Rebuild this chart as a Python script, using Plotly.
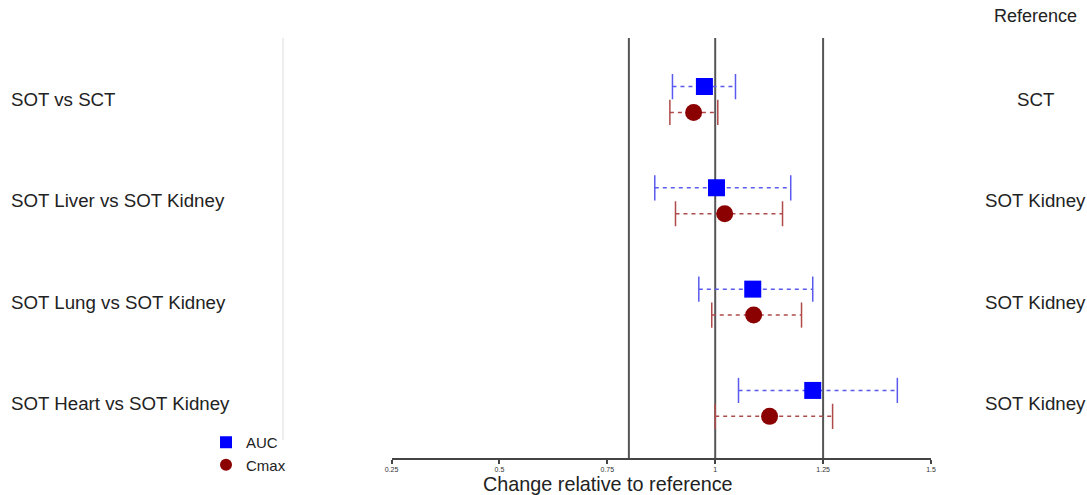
import plotly.graph_objects as go

comparisons = ["SOT vs SCT", "SOT Liver vs SOT Kidney", "SOT Lung vs SOT Kidney", "SOT Heart vs SOT Kidney"]
references = ["SCT", "SOT Kidney", "SOT Kidney", "SOT Kidney"]

auc_est = [0.975, 1.003, 1.087, 1.226]
auc_lo = [0.901, 0.860, 0.962, 1.054]
auc_hi = [1.047, 1.175, 1.226, 1.422]

cmax_est = [0.950, 1.022, 1.089, 1.126]
cmax_lo = [0.895, 0.908, 0.992, 1.000]
cmax_hi = [1.006, 1.156, 1.200, 1.272]

ref_lines = [0.8, 1.0, 1.25]
tick_vals = [0.25, 0.5, 0.75, 1.0, 1.25, 1.5]
tick_text = ["0.25", "0.5", "0.75", "1", "1.25", "1.5"]

W, H = 1087, 495
TOP, BOT = 38, 458
FONT = "Liberation Sans, Arial, sans-serif"
OFF = 0.128

fig = go.Figure()

def add_series(est, lo, hi, off, mcolor, wcolor, symbol, msize, name):
    ys = [i + off for i in range(len(est))]
    wx, wy = [], []
    for l, h, y in zip(lo, hi, ys):
        wx += [l, h, None]
        wy += [y, y, None]
    fig.add_trace(go.Scatter(x=wx, y=wy, mode="lines",
                             line=dict(color=wcolor, width=1.5, dash="4px,4px"),
                             showlegend=False, hoverinfo="skip"))
    fig.add_trace(go.Scatter(x=lo + hi, y=ys + ys, mode="markers",
                             marker=dict(symbol="line-ns", size=18,
                                         line=dict(color=wcolor, width=1.5)),
                             showlegend=False, hoverinfo="skip"))
    fig.add_trace(go.Scatter(x=est, y=ys, mode="markers",
                             marker=dict(symbol=symbol, size=msize, color=mcolor,
                                         line=dict(width=0)),
                             showlegend=False, name=name))

add_series(auc_est, auc_lo, auc_hi, -OFF, "#0000FF", "#5a5af0", "square", 17, "AUC")
add_series(cmax_est, cmax_lo, cmax_hi, OFF, "#8B0000", "#b04a4a", "circle", 17, "Cmax")

# legend-only entries
fig.add_trace(go.Scatter(x=[None], y=[None], mode="markers", name="AUC",
                         marker=dict(symbol="square", size=12, color="#0000FF")))
fig.add_trace(go.Scatter(x=[None], y=[None], mode="markers", name="Cmax",
                         marker=dict(symbol="circle", size=12, color="#8B0000")))

shapes = []
for v in ref_lines:
    shapes.append(dict(type="line", xref="x", yref="paper", x0=v, x1=v, y0=0, y1=1,
                       line=dict(color="#555555", width=2), layer="below"))
# faint separator line
shapes.append(dict(type="line", xref="paper", yref="paper", x0=283 / W, x1=283 / W,
                   y0=1 - (440 - TOP) / (BOT - TOP), y1=1,
                   line=dict(color="#dddddd", width=1), layer="below"))

annotations = []
for i, (c, r) in enumerate(zip(comparisons, references)):
    annotations.append(dict(x=9 / W, xref="paper", y=i, yref="y", text=c,
                            showarrow=False, xanchor="left", yanchor="middle",
                            font=dict(family=FONT, size=18.7, color="#222222")))
    annotations.append(dict(x=1035 / W, xref="paper", y=i, yref="y", text=r,
                            showarrow=False, xanchor="center", yanchor="middle",
                            font=dict(family=FONT, size=18.7, color="#222222")))
annotations.append(dict(x=1035 / W, xref="paper", y=1 + (TOP - 16) / (BOT - TOP), yref="paper",
                        text="Reference", showarrow=False, xanchor="center", yanchor="middle",
                        font=dict(family=FONT, size=18, color="#222222")))
annotations.append(dict(x=608 / W, xref="paper", y=1 - (484 - TOP) / (BOT - TOP), yref="paper",
                        text="Change relative to reference", showarrow=False,
                        xanchor="center", yanchor="middle",
                        font=dict(family=FONT, size=19.8, color="#222222")))

row_px = 101.3
first = 61.5
y_top = -first / row_px
y_bot = ((BOT - TOP) - first) / row_px

fig.update_layout(
    width=W, height=H,
    margin=dict(l=0, r=0, t=TOP, b=H - BOT, autoexpand=False),
    plot_bgcolor="white", paper_bgcolor="white",
    xaxis=dict(domain=[391.5 / W, 931 / W], range=[0.25, 1.5],
               tickvals=tick_vals, ticktext=tick_text,
               showline=True, linecolor="#444444", linewidth=1.5,
               ticks="outside", ticklen=4, tickwidth=1.5, tickcolor="#444444",
               tickfont=dict(family=FONT, size=7, color="#333333"),
               showgrid=False, zeroline=False, fixedrange=True),
    yaxis=dict(range=[y_bot, y_top], visible=False, showgrid=False,
               zeroline=False, fixedrange=True),
    shapes=shapes,
    annotations=annotations,
    showlegend=True,
    legend=dict(x=206 / W, xanchor="left", y=1 - (426 - TOP) / (BOT - TOP), yanchor="top",
                font=dict(family=FONT, size=15, color="#222222"),
                bgcolor="rgba(0,0,0,0)", tracegroupgap=0, itemsizing="trace"),
)

fig.write_html("out.html")
